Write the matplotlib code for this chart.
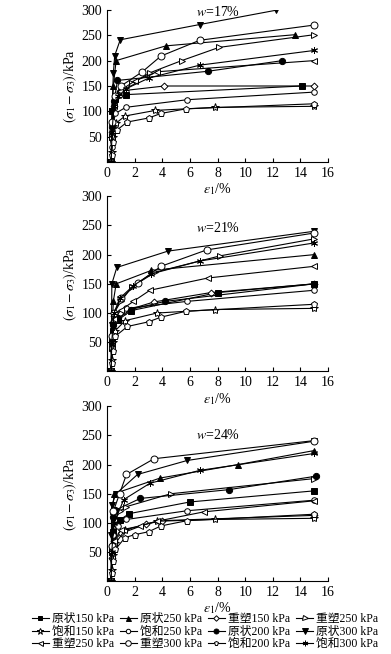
import matplotlib
matplotlib.use("Agg")
import matplotlib.pyplot as plt
from matplotlib.lines import Line2D

plt.rcParams['font.family'] = ['Liberation Serif', 'Noto Sans CJK SC', 'DejaVu Sans']
plt.rcParams['mathtext.fontset'] = 'stix'

labels = ['原状150 kPa', '原状250 kPa', '重塑150 kPa', '重塑250 kPa',
          '饱和150 kPa', '饱和250 kPa', '原状200 kPa', '原状300 kPa',
          '重塑250 kPa', '重塑300 kPa', '饱和200 kPa', '饱和300 kPa']
panel_titles = ['17%', '21%', '24%']
x_ticks = [0, 2, 4, 6, 8, 10, 12, 14, 16]
y_ticks = [50, 100, 150, 200, 250, 300]

# ---- w = 17% ----
x17_0 = [0.3, 0.32, 0.38, 0.6, 1.35, 14.1];  y17_0 = [0, 50, 100, 125, 133, 150]
x17_1 = [0.3, 0.35, 0.45, 0.65, 4.25, 13.6];  y17_1 = [0, 80, 150, 200, 229, 251]
x17_2 = [0.3, 0.35, 0.5, 0.9, 4.15, 15];  y17_2 = [0, 60, 110, 140, 150, 150]
x17_3 = [0.3, 0.35, 0.5, 0.9, 1.8, 3.1, 5.4, 8.1, 15];  y17_3 = [0, 50, 100, 130, 155, 176, 200, 226, 251]
x17_4 = [0.3, 0.32, 0.4, 0.65, 1.3, 3.5, 7.8, 15];  y17_4 = [0, 20, 50, 77, 91, 102, 108, 110]
x17_5 = [0.3, 0.32, 0.4, 0.6, 1.35, 5.8, 15];  y17_5 = [0, 30, 70, 96, 108, 123, 138]
x17_6 = [0.3, 0.35, 0.5, 0.75, 7.3, 12.7];  y17_6 = [0, 70, 120, 161, 179, 200]
x17_7 = [0.3, 0.35, 0.45, 0.55, 0.95, 6.7, 12.2];  y17_7 = [0, 100, 175, 210, 241, 271, 299]
x17_8 = [0.3, 0.35, 0.5, 0.9, 2.0, 3.6, 15];  y17_8 = [0, 60, 110, 140, 160, 178, 200]
x17_9 = [0.3, 0.35, 0.6, 1.0, 2.55, 3.9, 6.7, 15];  y17_9 = [0, 80, 130, 150, 178, 209, 240, 270]
x17_10 = [0.3, 0.32, 0.4, 0.7, 1.45, 3.0, 3.9, 5.7, 15];  y17_10 = [0, 15, 40, 63, 79, 87, 96, 105, 115]
x17_11 = [0.3, 0.35, 0.5, 0.8, 1.4, 3.05, 6.7, 15];  y17_11 = [0, 60, 110, 130, 145, 166, 191, 220]

# ---- w = 21% ----
x21_0 = [0.3, 0.33, 0.45, 0.8, 1.7, 8.0, 15];  y21_0 = [0, 40, 70, 88, 104, 135, 150]
x21_1 = [0.3, 0.33, 0.45, 0.65, 3.2, 15];  y21_1 = [0, 60, 120, 150, 173, 200]
x21_2 = [0.3, 0.33, 0.5, 1.3, 3.4, 7.5, 15];  y21_2 = [0, 50, 95, 104, 119, 135, 150]
x21_3 = [0.3, 0.33, 0.5, 1.0, 1.8, 3.5, 8.2, 15];  y21_3 = [0, 50, 100, 120, 145, 170, 198, 227]
x21_4 = [0.3, 0.32, 0.4, 0.6, 1.3, 3.6, 7.8, 15];  y21_4 = [0, 20, 50, 70, 87, 100, 106, 108]
x21_5 = [0.3, 0.33, 0.45, 0.9, 1.4, 5.8, 15];  y21_5 = [0, 40, 85, 100, 108, 120, 139]
x21_6 = [0.3, 0.33, 0.45, 0.8, 1.7, 4.2, 15];  y21_6 = [0, 50, 80, 91, 106, 120, 150]
x21_7 = [0.3, 0.32, 0.34, 0.7, 4.4, 15];  y21_7 = [0, 80, 150, 178, 206, 240]
x21_8 = [0.3, 0.33, 0.5, 1.0, 1.9, 3.1, 7.3, 15];  y21_8 = [0, 50, 90, 105, 120, 139, 160, 180]
x21_9 = [0.3, 0.33, 0.5, 1.0, 2.2, 3.9, 7.2, 15];  y21_9 = [0, 60, 100, 125, 151, 180, 208, 237]
x21_10 = [0.3, 0.32, 0.4, 0.58, 1.47, 3.0, 3.9, 5.7, 15];  y21_10 = [0, 15, 35, 60, 77, 85, 93, 103, 115]
x21_11 = [0.3, 0.33, 0.5, 0.9, 1.9, 3.2, 6.7, 15];  y21_11 = [0, 50, 100, 125, 147, 167, 189, 220]

# ---- w = 24% ----
x24_0 = [0.3, 0.33, 0.45, 0.9, 1.6, 6.0, 15];  y24_0 = [0, 50, 85, 105, 116, 136, 155]
x24_1 = [0.3, 0.33, 0.4, 0.5, 3.85, 9.5, 15];  y24_1 = [0, 60, 120, 150, 177, 200, 224]
x24_2 = [0.3, 0.33, 0.5, 1.0, 2.8, 4.0, 15];  y24_2 = [0, 40, 70, 82, 98, 104, 113]
x24_3 = [0.3, 0.33, 0.5, 0.9, 1.4, 4.6, 15];  y24_3 = [0, 50, 100, 120, 128, 150, 176]
x24_4 = [0.3, 0.32, 0.4, 0.6, 1.3, 3.6, 7.8, 15];  y24_4 = [0, 20, 45, 65, 88, 103, 106, 108]
x24_5 = [0.3, 0.33, 0.45, 0.8, 1.4, 5.8, 15];  y24_5 = [0, 40, 80, 95, 106, 121, 139]
x24_6 = [0.3, 0.33, 0.45, 0.6, 2.4, 8.8, 15.1];  y24_6 = [0, 60, 110, 122, 142, 157, 180]
x24_7 = [0.3, 0.31, 0.32, 0.65, 2.2, 5.8, 15];  y24_7 = [0, 80, 130, 150, 183, 207, 240]
x24_8 = [0.3, 0.33, 0.5, 1.0, 2.4, 3.6, 7.0, 15];  y24_8 = [0, 40, 70, 88, 95, 103, 119, 138]
x24_9 = [0.3, 0.33, 0.45, 0.9, 1.4, 3.4, 15];  y24_9 = [0, 60, 120, 150, 183, 210, 241]
x24_10 = [0.3, 0.32, 0.4, 0.6, 1.3, 2.0, 3.0, 3.9, 5.8, 15];  y24_10 = [0, 15, 35, 55, 75, 80, 85, 95, 104, 115]
x24_11 = [0.3, 0.33, 0.5, 1.2, 3.1, 6.7, 15];  y24_11 = [0, 50, 100, 140, 168, 190, 219]

panels = [
    [(x17_0, y17_0), (x17_1, y17_1), (x17_2, y17_2), (x17_3, y17_3), (x17_4, y17_4), (x17_5, y17_5),
     (x17_6, y17_6), (x17_7, y17_7), (x17_8, y17_8), (x17_9, y17_9), (x17_10, y17_10), (x17_11, y17_11)],
    [(x21_0, y21_0), (x21_1, y21_1), (x21_2, y21_2), (x21_3, y21_3), (x21_4, y21_4), (x21_5, y21_5),
     (x21_6, y21_6), (x21_7, y21_7), (x21_8, y21_8), (x21_9, y21_9), (x21_10, y21_10), (x21_11, y21_11)],
    [(x24_0, y24_0), (x24_1, y24_1), (x24_2, y24_2), (x24_3, y24_3), (x24_4, y24_4), (x24_5, y24_5),
     (x24_6, y24_6), (x24_7, y24_7), (x24_8, y24_8), (x24_9, y24_9), (x24_10, y24_10), (x24_11, y24_11)],
]

styles = [
    dict(marker='s', mfc='black', ms=4),
    dict(marker='^', mfc='black', ms=4.5),
    dict(marker='D', mfc='white', ms=3.5),
    dict(marker='>', mfc='white', ms=4.5),
    dict(marker='*', mfc='white', ms=6),
    dict(marker='o', mfc='white', ms=4),
    dict(marker='o', mfc='black', ms=4.5),
    dict(marker='v', mfc='black', ms=5),
    dict(marker='<', mfc='white', ms=4.5),
    dict(marker='o', mfc='white', ms=5),
    dict(marker='p', mfc='white', ms=4.5),
    dict(marker=(6, 2, 0), mfc='black', ms=5),
]

fig = plt.figure(figsize=(3.91, 6.54), dpi=100)
rects = [(0.274, 0.752, 0.565, 0.233),
         (0.274, 0.432, 0.565, 0.268),
         (0.274, 0.111, 0.565, 0.268)]
title_y = [296, 245, 250]

for p, rect in enumerate(rects):
    ax = fig.add_axes(rect)
    for i, (xs, ys) in enumerate(panels[p]):
        st = styles[i]
        ax.plot(xs, ys, color='black', lw=0.8, marker=st['marker'], mfc=st['mfc'],
                mec='black', mew=0.7, ms=st['ms'])
    ax.set_xlim(0, 16)
    ax.set_ylim(0, 300)
    ax.set_xticks(x_ticks)
    ax.set_yticks(y_ticks)
    ax.spines['top'].set_visible(False)
    ax.spines['right'].set_visible(False)
    ax.tick_params(direction='in', labelsize=10, width=0.8, length=3)
    ax.set_xlabel(r'$\varepsilon_1$/%', fontsize=10, labelpad=1)
    ax.set_ylabel(r'$(\sigma_1-\sigma_3)$/kPa', fontsize=10, labelpad=2)
    ax.text(8, title_y[p], r'$w$=' + panel_titles[p], ha='center', va='center', fontsize=10)

handles = [Line2D([], [], color='black', lw=0.8, marker=s['marker'], mfc=s['mfc'],
                  mec='black', mew=0.7, ms=s['ms'] * 0.8) for s in styles]
order = [0, 4, 8, 1, 5, 9, 2, 6, 10, 3, 7, 11]
fig.legend([handles[k] for k in order], [labels[k] for k in order], ncol=4,
           loc='center', bbox_to_anchor=(0.525, 0.034), frameon=False, fontsize=8.5,
           handlelength=1.4, handletextpad=0.3, columnspacing=0.5, labelspacing=0.05,
           borderpad=0)

fig.savefig('out.png', dpi=100)
